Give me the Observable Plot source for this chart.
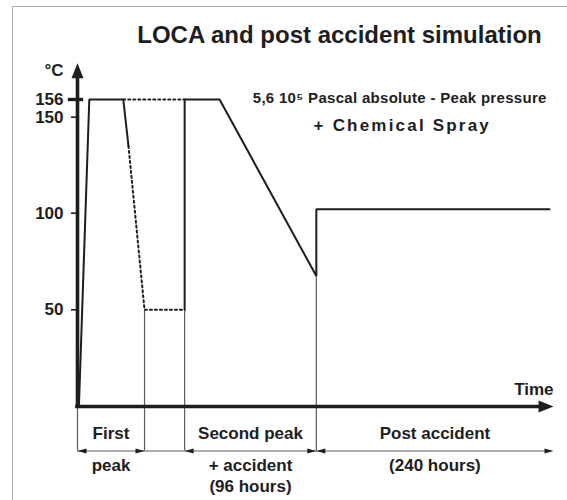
<!DOCTYPE html>
<html>
<head>
<meta charset="utf-8">
<script src="https://cdn.jsdelivr.net/npm/d3@7"></script>
<script src="https://cdn.jsdelivr.net/npm/@observablehq/plot@0.6"></script>
<style>
  html, body { margin: 0; padding: 0; background: #fff; overflow: hidden; }
  #wrap { position: relative; width: 567px; height: 500px; }
  #border { position: absolute; left: 12px; top: 6px; right: -20px; bottom: -20px;
            border-left: 1.5px solid #aaa; border-top: 1.5px solid #aaa; pointer-events: none; }
  #chart svg { display: block; }
</style>
</head>
<body>
<div id="wrap"><div id="border"></div><div id="chart"></div></div>
<script>
// ---- data (time in arbitrary units, temperature in °C) ----
const profileTime = [0.3, 2.5, 9.7, 10.8,   10.8, 14.2, 22.7,   9.7, 22.7,   22.7, 22.7, 30.1, 50.6, 50.6, 100];
const profileTemp = [0,   156, 156, 135,    135,  50,   50,     156, 156,    50,   156,  156,  67.5, 102,  102];
const profileSeg  = ["a", "a", "a", "a",    "b",  "b",  "b",    "c", "c",    "d",  "d",  "d",  "d",  "d",  "d"];
const dottedSegs = ["b", "c"];

const yTicks = [50, 100, 150];
const peakTick = 156;

const guideTime = [0, 14.2, 22.7, 50.6];
const guideTemp = [0, 50, 50, 67.5];

const phaseStart = [0, 22.7, 50.6];
const phaseEnd   = [14.2, 50.6, 100.85];
const phaseRow1 = ["First", "Second peak", "Post accident"];
const phaseRow2 = ["peak", "+ accident", "(240 hours)"];
const phaseRow3 = ["", "(96 hours)", ""];

const title = "LOCA and post accident simulation";
const pressureNote = "5,6 10\u2075 Pascal absolute - Peak pressure";
const sprayNote = "+ Chemical Spray";
const yUnit = "°C";
const xName = "Time";

// ---- build tables ----
const profile = profileTime.map((t, i) => ({time: t, temp: profileTemp[i], seg: profileSeg[i]}));
const guides = guideTime.map((t, i) => ({time: t, temp: guideTemp[i]}));
const phases = phaseRow1.map((r, i) => ({start: phaseStart[i], end: phaseEnd[i], mid: (phaseStart[i] + phaseEnd[i]) / 2,
  r1: r, r2: phaseRow2[i], r3: phaseRow3[i]}));
const heads = phases.flatMap(p => [{time: p.start, dir: -90}, {time: p.end, dir: 90}]);

const bracketLevel = -23;
const yTop = 168.3;

// filled arrowhead symbols (tip at origin, pointing up)
const bigHead = {draw(ctx) { ctx.moveTo(0, 0); ctx.lineTo(-6, 15); ctx.lineTo(6, 15); ctx.closePath(); }};
const smallHead = {draw(ctx) { ctx.moveTo(0, 0); ctx.lineTo(-2.6, 9); ctx.lineTo(2.6, 9); ctx.closePath(); }};

const ink = "#1e1e1e";
const chart = Plot.plot({
  width: 567,
  height: 500,
  marginLeft: 77,
  marginRight: 18,
  marginTop: 60,
  marginBottom: 10,
  style: {fontFamily: "'Liberation Sans', Arial, Helvetica, sans-serif", fontWeight: "bold", color: ink, background: "transparent"},
  x: {type: "linear", domain: [0, 100], range: [77, 549], axis: null},
  y: {type: "linear", domain: [0, 50, 100, 150, 156], range: [406, 309.3, 212.7, 116.7, 99], axis: null, label: null},
  marks: [
    // thin guide lines and phase brackets
    Plot.ruleX(guides, {x: "time", y1: "temp", y2: bracketLevel, stroke: "#5a5a5a", strokeWidth: 1.2}),
    Plot.ruleY([bracketLevel], {x1: 0, x2: 100.4, stroke: "#5a5a5a", strokeWidth: 1.2}),
    Plot.dot(heads, {x: "time", y: bracketLevel, symbol: smallHead, rotate: "dir", fill: ink, stroke: null, r: 3}),
    // axes lines with arrows
    Plot.ruleX([0], {y1: -1, y2: 165, stroke: ink, strokeWidth: 3.6}),
    Plot.dot([0], {x: 0, y: yTop, symbol: bigHead, fill: ink, stroke: null, r: 5}),
    Plot.ruleY([0], {x1: -0.4, x2: 99.5, stroke: ink, strokeWidth: 3.4}),
    Plot.dot([0], {x: 100.85, y: 0, symbol: bigHead, rotate: 90, fill: ink, stroke: null, r: 5}),
    // y axis ticks
    Plot.axisY(yTicks, {anchor: "left", tickSize: 6, tickPadding: 8, fontSize: 17, fontWeight: "bold", strokeWidth: 1.6, label: null}),
    Plot.ruleY([peakTick], {x1: -1.95, x2: 1.3, stroke: ink, strokeWidth: 3.4}),
    Plot.axisY([peakTick], {anchor: "left", tickSize: 0, tickPadding: 14, fontSize: 17, fontWeight: "bold", label: null}),
    // temperature profile
    Plot.line(profile.filter(d => !dottedSegs.includes(d.seg)), {x: "time", y: "temp", z: "seg", stroke: ink, strokeWidth: 2, strokeLinejoin: "miter"}),
    Plot.line(profile.filter(d => dottedSegs.includes(d.seg)), {x: "time", y: "temp", z: "seg", stroke: ink, strokeWidth: 2, strokeDasharray: "2,3"}),
    // texts
    Plot.text([yUnit], {x: 0, y: 165.8, dx: -14, text: d => d, textAnchor: "end", fontSize: 17, fontWeight: "bold"}),
    Plot.text([xName], {x: 100.85, y: 8.8, text: d => d, textAnchor: "end", fontSize: 17, fontWeight: "bold"}),
    Plot.text([title], {x: 55.5, y: 177.6, text: d => d, fontSize: 24, fontWeight: "bold"}),
    Plot.text([pressureNote], {x: 99.4, y: 156.6, text: d => d, textAnchor: "end", fontSize: 15, fontWeight: "bold", className: "pressure-note"}),
    Plot.text([sprayNote], {x: 68.6, y: 145.5, text: d => d, fontSize: 17, fontWeight: "bold", className: "spray-note"}),
    Plot.text(phases, {x: "mid", y: -14.2, text: "r1", fontSize: 17, fontWeight: "bold"}),
    Plot.text(phases, {x: "mid", y: -30.7, text: "r2", fontSize: 17, fontWeight: "bold"}),
    Plot.text(phases, {x: "mid", y: -41.5, text: "r3", fontSize: 17, fontWeight: "bold"})
  ]
});
// letter spacing for the two annotations (not a Plot text option)
d3.select(chart).selectAll("text").filter(function() { return this.textContent === sprayNote; })
  .attr("letter-spacing", 2.2).attr("dx", 1);
d3.select(chart).selectAll("text").filter(function() { return this.textContent === pressureNote; })
  .attr("letter-spacing", 0.3);
document.getElementById("chart").appendChild(chart);
</script>
</body>
</html>
